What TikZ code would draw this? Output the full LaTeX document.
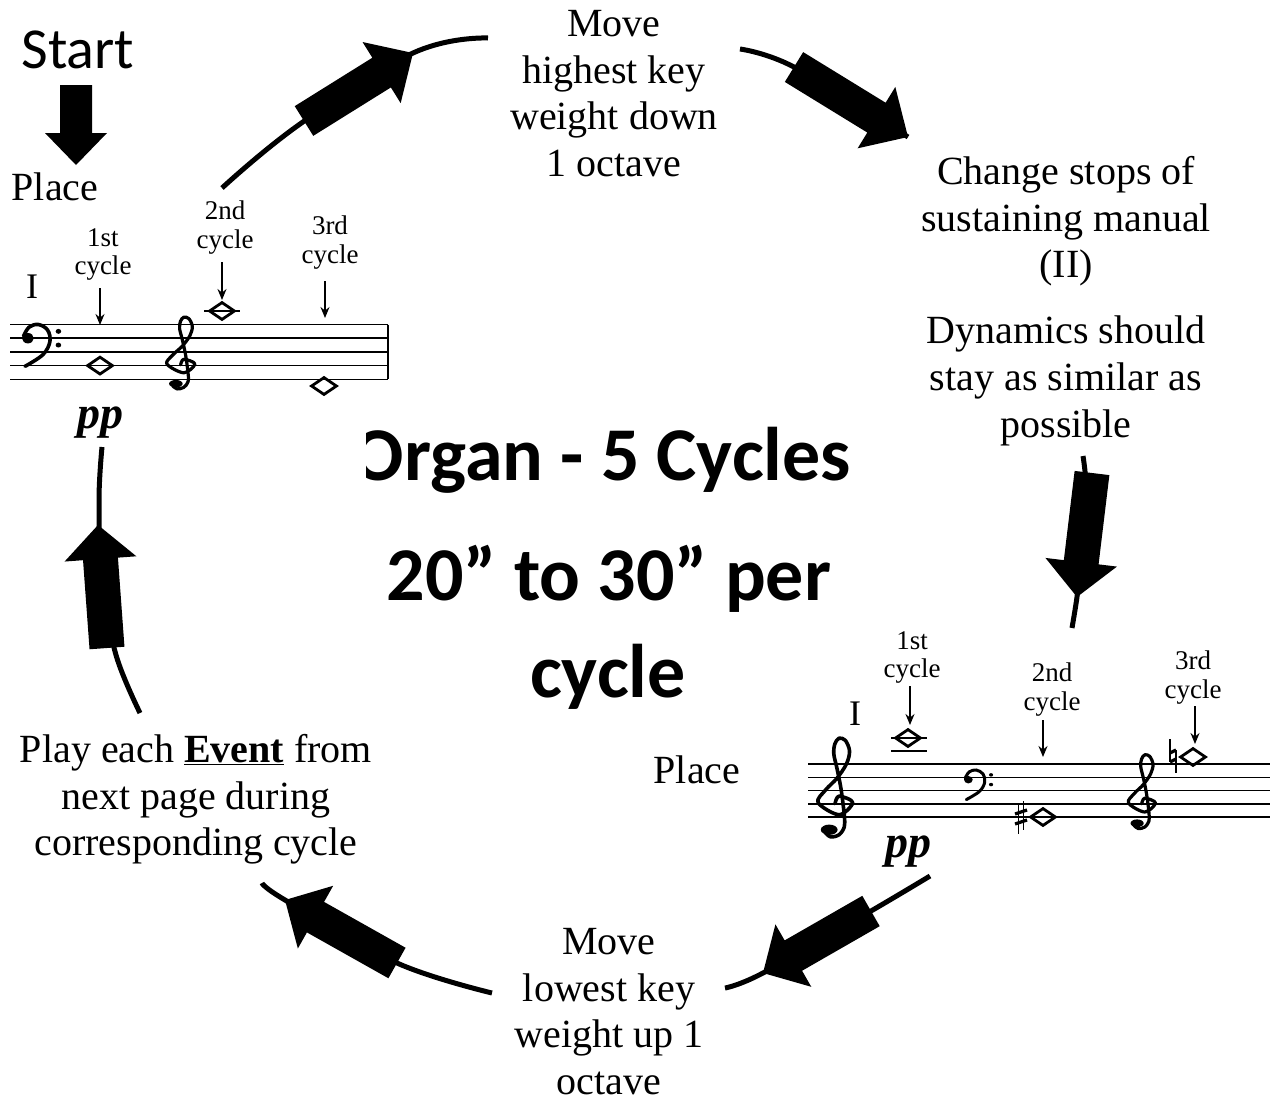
\documentclass[tikz,border=0pt]{standalone}
\usepackage{fontspec}
\setmainfont{Liberation Serif}
\newfontfamily\carlito{Carlito}
\usetikzlibrary{arrows.meta,shapes.geometric}

% block arrow: #1 tail coord, #2 tip coord, #3 body half width, #4 head half width, #5 head length
\newcommand\blockarrow[5]{%
  \pgfpointdiff{\pgfpointanchor{#1}{center}}{\pgfpointanchor{#2}{center}}%
  \pgfgetlastxy\bax\bay
  \pgfmathsetmacro\baang{atan2(\bay,\bax)}%
  \pgfmathsetmacro\balen{veclen(\bax,\bay)}%
  \pgfmathsetmacro\babase{\balen-#5}%
  \fill[shift={(#1)},rotate=\baang] (0pt,-#3pt) -- (\babase pt,-#3pt) -- (\babase pt,-#4pt)
     -- (\balen pt,0pt) -- (\babase pt,#4pt) -- (\babase pt,#3pt) -- (0pt,#3pt) -- cycle;}

% treble clef: #1 x, #2 y (G line), #3 x unit, #4 y unit, #5 line width
\newcommand\trebleclef[5]{%
  \begin{scope}[shift={(#1,#2)},x=#3pt,y=#4pt]
    \draw[line width=#5pt,line cap=round,line join=round] plot[smooth,tension=0.55] coordinates
      {(-0.14,0.03) (0.05,0.55) (0.7,0.1) (0.05,-0.75) (-0.95,0.1) (-0.58,1.0) (-0.05,1.8)
       (0.4,2.8) (0.55,3.7) (0.35,4.45) (0.05,4.6) (-0.15,4.2) (-0.2,3.5) (-0.05,2.5)
       (0.15,1.0) (0.3,-0.8) (0.3,-1.6) (0.05,-2.15) (-0.35,-2.3) (-0.6,-2.0)};
    \fill (-0.42,-1.8) circle[x radius=0.4,y radius=0.36];
  \end{scope}}

% bass clef: #1 x (left), #2 y (F line), #3 x unit, #4 y unit, #5 line width
\newcommand\bassclef[5]{%
  \begin{scope}[shift={(#1,#2)},x=#3pt,y=#4pt]
    \fill (0.38,0) circle[x radius=0.38,y radius=0.38];
    \draw[line width=#5pt,line cap=round] plot[smooth,tension=0.6] coordinates
      {(0.1,0.15) (0.45,0.8) (1.05,1.0) (1.65,0.6) (1.8,-0.25) (1.35,-1.2) (0.2,-2.05)};
    \fill (2.35,0.5) circle[x radius=0.18,y radius=0.18];
    \fill (2.35,-0.5) circle[x radius=0.18,y radius=0.18];
  \end{scope}}

\begin{document}
\begin{tikzpicture}[x=1pt,y=-1pt,
  arc/.style={line width=5pt},
  lbl/.style={align=center,inner sep=0pt,font=\fontsize{40}{46.7}\selectfont},
  small/.style={align=center,inner sep=0pt,font=\fontsize{27}{28.5}\selectfont},
  title/.style={inner sep=0pt,anchor=base,font=\carlito\bfseries\fontsize{76}{90}\selectfont},
  staffline/.style={line width=1.6pt},
  thinarr/.style={line width=1.6pt,-{Stealth[length=11pt,width=9pt]}},
  notehead/.style={diamond,draw,line width=2.8pt,minimum width=26pt,minimum height=18pt,inner sep=0pt},
  ledger/.style={line width=1.8pt},
  dynamic/.style={inner sep=0pt,font=\fontsize{46}{46}\selectfont\bfseries\itshape},
  roman/.style={inner sep=0pt,font=\fontsize{36}{36}\selectfont}]

\useasboundingbox (0,0) rectangle (1270,1101);

% ---------- text blocks ----------
\node[lbl,anchor=north] (top) at (614,10) {Move\\highest key\\weight down\\1 octave};
\node[lbl,anchor=north] (chg) at (1066,156) {Change stops of\\sustaining manual\\(II)};
\node[lbl,anchor=north] (dynm) at (1066,316) {Dynamics should\\stay as similar as\\possible};
\node[lbl,anchor=north] (bot) at (609,928) {Move\\lowest key\\weight up 1\\octave};
\node[lbl,anchor=north] (play) at (196,734) {Play each \textbf{\underline{Event}} from\\next page during\\corresponding cycle};
\node[lbl,anchor=base] (place1) at (55,200) {Place};
\node[lbl,anchor=base] (place2) at (697,783) {Place};
\node[inner sep=0pt,anchor=base,font=\carlito\fontsize{58}{58}\selectfont] (start) at (78,68) {Start};

% ---------- title ----------
\begin{scope}
  \clip (366,380) rectangle (1000,520);
  \node[title] (ttl1) at (602,480) {Organ - 5 Cycles};
\end{scope}
\node[title] (ttl2) at (609,600) {20” to 30” per};
\node[title] (ttl3) at (608,697) {cycle};

% ---------- cycle coordinates ----------
\coordinate (s1) at (222,188);  \coordinate (tail1) at (304,121); \coordinate (tip1) at (413,53);  \coordinate (e1) at (488,38);
\coordinate (s2) at (740,49);   \coordinate (tail2) at (794,67);  \coordinate (tip2) at (908,137);
\coordinate (s3) at (1083,456); \coordinate (tail3) at (1092,473); \coordinate (tip3) at (1077,597); \coordinate (e3) at (1072,628);
\coordinate (s4) at (930,876);  \coordinate (tail4) at (871,911); \coordinate (tip4) at (763,973); \coordinate (e4) at (725,988);
\coordinate (s5) at (492,993);  \coordinate (tail5) at (397,963); \coordinate (tip5) at (285,900); \coordinate (e5) at (262,883);
\coordinate (s6) at (140,713);  \coordinate (tail6) at (107,648); \coordinate (tip6) at (98,525);  \coordinate (e6) at (102,447);
\coordinate (st1) at (76,85);   \coordinate (st2) at (76,165);

\draw[arc] plot[smooth,tension=0.7] coordinates {(s1) (300,124) (tip1) (e1)};
\draw[arc] plot[smooth,tension=0.6] coordinates {(s2) (tail2) (tip2)};
\draw[arc] plot[smooth,tension=0.5] coordinates {(s3) (1086,490) (1081,560) (tip3) (e3)};
\draw[arc] plot[smooth,tension=0.6] coordinates {(s4) (tail4) (tip4) (e4)};
\draw[arc] plot[smooth,tension=0.6] coordinates {(s5) (tail5) (tip5) (e5)};
\draw[arc] plot[smooth,tension=0.6] coordinates {(s6) (116,655) (102,580) (99,500) (e6)};

\blockarrow{tail1}{tip1}{17.5}{36}{37}
\blockarrow{tail2}{tip2}{17.5}{36}{37}
\blockarrow{tail3}{tip3}{17.5}{36}{35}
\blockarrow{tail4}{tip4}{17.5}{36}{35}
\blockarrow{tail5}{tip5}{17.5}{36}{35}
\blockarrow{tail6}{tip6}{17.5}{36}{34}
\blockarrow{st1}{st2}{16}{31}{32}

% ---------- top-left staff ----------
\foreach \yy in {324.5,338.2,351.9,365.6,379.3} \draw[staffline] (10,\yy) -- (388,\yy);
\draw[line width=2.5pt] (388,324.5) -- (388,379.3);
\bassclef{22}{338.2}{15.5}{13.7}{3.6}
\trebleclef{183}{365}{17}{10.4}{3.2}
\node[roman] (i1) at (32,287) {I};
\node[notehead] (n1) at (100,365.6) {};
\draw[ledger] (204,311) -- (240,311);
\node[notehead] (n2) at (222,311) {};
\node[notehead] (n3) at (324,386) {};
\node[small,anchor=north] (c1) at (103,228) {1st\\cycle};
\node[small,anchor=north] (c2) at (225,201) {2nd\\cycle};
\node[small,anchor=north] (c3) at (330,216) {3rd\\cycle};
\coordinate (a1s) at (100,288); \coordinate (a1e) at (100,325);
\coordinate (a2s) at (222,262); \coordinate (a2e) at (222,300);
\coordinate (a3s) at (325,281); \coordinate (a3e) at (325,318);
\draw[thinarr] (a1s) -- (a1e);
\draw[thinarr] (a2s) -- (a2e);
\draw[thinarr] (a3s) -- (a3e);
\node[dynamic] (pp1) at (100,423) {pp};

% ---------- bottom-right staff ----------
\foreach \yy in {764,777.3,790.6,803.9,817.2} \draw[staffline] (808,\yy) -- (1270,\yy);
\trebleclef{838}{804}{21}{14.3}{3.6}
\bassclef{964}{779.7}{11.5}{9.7}{3}
\trebleclef{1144}{804}{16.4}{10.7}{3.2}
\node[roman] (i2) at (855,714) {I};
\draw[ledger] (891,738) -- (927,738);
\draw[ledger] (891,751) -- (927,751);
\node[notehead] (m1) at (908,738) {};
\node[notehead] (m2) at (1043,817) {};
\node[notehead] (m3) at (1193,757) {};
% sharp
\begin{scope}[shift={(1021,817)}]
  \draw[line width=1.4pt] (-2.5,-12) -- (-2.5,17);
  \draw[line width=1.4pt] (2.5,-16) -- (2.5,13);
  \draw[line width=3.2pt] (-6,-3) -- (6,-7);
  \draw[line width=3.2pt] (-6,7) -- (6,3);
\end{scope}
% natural
\begin{scope}[shift={(1173,756)}]
  \draw[line width=1.4pt] (-3,-17) -- (-3,6);
  \draw[line width=1.4pt] (3,-6) -- (3,17);
  \draw[line width=3.2pt] (-3,-3) -- (3,-6);
  \draw[line width=3.2pt] (-3,6) -- (3,3);
\end{scope}
\node[small,anchor=north] (d1) at (912,631) {1st\\cycle};
\node[small,anchor=north] (d2) at (1052,663) {2nd\\cycle};
\node[small,anchor=north] (d3) at (1193,651) {3rd\\cycle};
\coordinate (b1s) at (910,686);  \coordinate (b1e) at (910,725);
\coordinate (b2s) at (1043,720); \coordinate (b2e) at (1043,757);
\coordinate (b3s) at (1195,706); \coordinate (b3e) at (1195,744);
\draw[thinarr] (b1s) -- (b1e);
\draw[thinarr] (b2s) -- (b2e);
\draw[thinarr] (b3s) -- (b3e);
\node[dynamic] (pp2) at (908,852) {pp};
\end{tikzpicture}
\end{document}
